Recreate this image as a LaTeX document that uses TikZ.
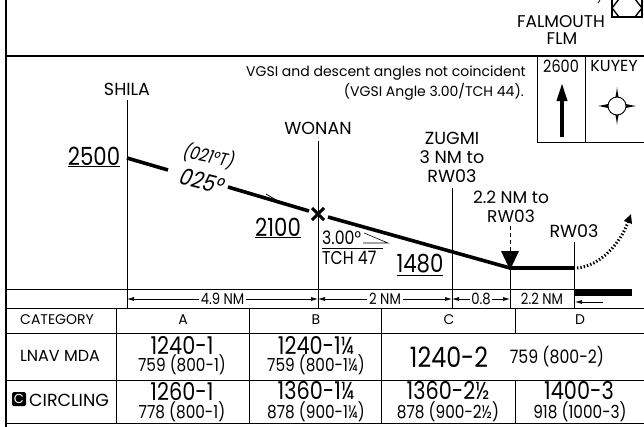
\documentclass[tikz,border=0pt]{standalone}
\usepackage{fontspec}
\setmainfont{Poppins}
\newfontfamily\numfont{Poppins}[FakeStretch=0.85]
\newfontfamily\slantfont{Poppins}[FakeStretch=0.85,FakeSlant=0.2]
\usetikzlibrary{arrows.meta}

\tikzset{
  fixline/.style={line width=1pt},
  profile/.style={line width=3.6pt},
  rule/.style={line width=1pt},
  lbl/.style={font=\fontsize{17.5}{19}\selectfont, inner sep=0pt},
  note/.style={font=\fontsize{14}{16}\selectfont, inner sep=0pt, anchor=east},
  alt/.style={font=\numfont\fontsize{25}{27}\selectfont, inner sep=0pt},
  tch/.style={font=\numfont\fontsize{18.5}{19}\selectfont, inner sep=0pt, anchor=west},
  dist/.style={font=\numfont\fontsize{15.5}{16}\selectfont, fill=white, inner sep=2pt},
  hdr/.style={font=\fontsize{14}{16}\selectfont, inner sep=0pt},
  mins/.style={font=\numfont\fontsize{24.5}{26}\selectfont, inner sep=0pt},
  minsub/.style={font=\numfont\fontsize{18}{19}\selectfont, inner sep=0pt},
  dimarrow/.style={line width=0.7pt, {Latex[length=7pt,width=4pt]}-{Latex[length=7pt,width=4pt]}},
}

\begin{document}
\begin{tikzpicture}[x=1pt,y=-1pt]
\useasboundingbox (0,0) rectangle (644,426);
\clip (0,0) rectangle (644,426);

% frame
\draw[line width=2.5pt] (6,-2) -- (6,428);
\draw[line width=2pt] (6,56) -- (646,56);

% navaid at the top
\node[font=\fontsize{17}{19}\selectfont, inner sep=0pt] (falmouth) at (561,22) {FALMOUTH};
\node[font=\fontsize{17}{19}\selectfont, inner sep=0pt] (flm) at (562,39) {FLM};
\draw[line width=1.4pt] (612,-2) rectangle (642,17);
\draw[line width=1.4pt] (612,8) -- (619,17) -- (635,17) -- (642,8) -- (635,-1) -- (619,-1) -- cycle;
\draw[line width=0.8pt] (598,3) -- (600,0);

% notes
\node[note] (vgsi1) at (526,73) {VGSI and descent angles not coincident};
\node[note] (vgsi2) at (524,92) {(VGSI Angle 3.00/TCH 44).};

% MSA / waypoint box
\draw[rule] (537,56) -- (537,142) -- (646,142);
\draw[rule] (585,56) -- (585,142);
\node[font=\numfont\fontsize{17}{18}\selectfont, inner sep=0pt] (msa) at (561,66) {2600};
\node[font=\fontsize{16}{18}\selectfont, inner sep=0pt] (kuyey) at (614,66) {KUYEY};
\coordinate (arrbot) at (562,137);
\coordinate (arrtop) at (562,83);
\draw[line width=3.5pt, -{Triangle[length=18pt,width=10pt]}] (arrbot) -- (arrtop);
\begin{scope}[shift={(617,106)}]
  \fill (0,-19) .. controls (2,-3) .. (19,0) .. controls (2,3) .. (0,19)
        .. controls (-2,3) .. (-19,0) .. controls (-2,-3) .. cycle;
  \fill[white] (0,0) circle [radius=9];
  \draw[line width=0.9pt] (0,0) circle [radius=9];
\end{scope}

% fixes
\coordinate (shila) at (127,158);
\coordinate (wonan) at (318,214);
\coordinate (map) at (510,268);
\coordinate (rw) at (574,268);

\node[lbl] (shilalbl) at (127,89) {SHILA};
\draw[fixline] (127,100) -- (127,308);

\node[lbl] (wonanlbl) at (318,128) {WONAN};
\draw[fixline] (318,141) -- (318,308);

\node[lbl, align=center] (zugmi) at (452,157) {ZUGMI\\3 NM to\\RW03};
\draw[fixline] (452,188) -- (452,308);

\node[lbl, align=center, font=\fontsize{17}{18.5}\selectfont] (vdp) at (511,207) {2.2 NM to\\RW03};
\draw[fixline, dash pattern=on 4pt off 3pt] (510,226) -- (510,252);
\fill (501,251) -- (519,251) -- (510,270) -- cycle;
\draw[fixline] (510,268) -- (510,308);

\node[lbl] (rwlbl) at (574,231) {RW03};
\draw[fixline] (574,242) -- (574,308);

% descent profile
\coordinate (gapa) at (168,170);
\coordinate (gapb) at (228,187);
\draw[profile] (shila) -- (gapa);
\draw[profile] (gapb) -- (309,211);
\draw[line width=0.8pt] (266,194) -- (283,204);
\draw[profile] (328,217) -- (map) -- (rw);
\draw[line width=3pt] (312,208) -- (324,220) (312,220) -- (324,208);
\draw[line width=3pt, dash pattern=on 1.4pt off 2pt, -{Triangle[length=9pt,width=8pt]}]
  (577,268) .. controls (600,266) and (620,244) .. (631,214);

\node[font=\slantfont\fontsize{18}{20}\selectfont, inner sep=0pt, rotate=-12] (truecrs) at (208,156) {(021°T)};
\node[font=\slantfont\fontsize{23}{24}\selectfont, inner sep=0pt, rotate=-14] (crs) at (201,181) {025°};

\node[alt] (a2500) at (94,157) {\underline{2500}};
\node[alt] (a2100) at (278,228) {\underline{2100}};
\node[alt] (a1480) at (420,265) {\underline{1480}};

\node[tch] (gpa) at (322,238) {3.00°};
\node[tch] (tchval) at (322,258) {TCH 47};
\draw[line width=0.8pt] (322,248) -- (383,248);
\draw[line width=0.6pt] (364,233) -- (388,243) -- (363,243);

% distance strip
\draw[rule] (6,289) -- (574,289);
\fill (574,289) rectangle (632,296);
\draw[line width=0.7pt, -{Latex[length=7pt,width=4pt]}] (603,302) -- (575,302);
\draw[dimarrow] (127,299) -- node[dist] (d1) {4.9 NM} (318,299);
\draw[dimarrow] (318,299) -- node[dist] (d2) {2 NM} (452,299);
\draw[dimarrow] (452,299) -- node[dist, inner sep=1pt] (d3) {0.8} (510,299);
\node[dist] (d4) at (542,299) {2.2 NM};

% minimums table
\draw[rule] (6,308) -- (646,308);
\draw[rule] (6,333) -- (646,333);
\draw[rule] (6,380) -- (646,380);
\draw[rule] (6,423) -- (646,423);
\draw[rule] (116,308) -- (116,423);
\draw[rule] (249,308) -- (249,423);
\draw[rule] (381,308) -- (381,423);
\draw[rule] (515,308) -- (515,333);
\draw[rule] (515,380) -- (515,423);

\node[hdr] (cat) at (57,320) {CATEGORY};
\node[hdr] (cata) at (183,320) {A};
\node[hdr] (catb) at (316,320) {B};
\node[hdr] (catc) at (449,320) {C};
\node[hdr] (catd) at (580,320) {D};

\node[hdr, font=\fontsize{16}{18}\selectfont] (lnav) at (60,356) {LNAV MDA};
\node[mins] (lna) at (182,345) {1240-1};
\node[minsub] (lnasub) at (182,365) {759 (800-1)};
\node[mins] (lnb) at (316,345) {1240-1¼};
\node[minsub] (lnbsub) at (316,365) {759 (800-1¼)};
\node[mins, font=\numfont\fontsize{28}{30}\selectfont] (lncd) at (449,357) {1240-2};
\node[minsub, font=\numfont\fontsize{18.5}{19}\selectfont] (lncdsub) at (557,357) {759 (800-2)};

\fill[rounded corners=1.5pt] (12,392) rectangle (26,406);
\node[hdr, text=white, font=\fontsize{13}{14}\selectfont] (cicon) at (19,399) {C};
\node[hdr, font=\fontsize{17.5}{19}\selectfont, anchor=west] (circ) at (29,400) {CIRCLING};
\node[mins] (cia) at (182,391) {1260-1};
\node[minsub] (ciasub) at (182,412) {778 (800-1)};
\node[mins] (cib) at (316,391) {1360-1¼};
\node[minsub] (cibsub) at (316,412) {878 (900-1¼)};
\node[mins] (cic) at (448,391) {1360-2½};
\node[minsub] (cicsub) at (448,412) {878 (900-2½)};
\node[mins] (cid) at (579,391) {1400-3};
\node[minsub] (cidsub) at (580,412) {918 (1000-3)};
\end{tikzpicture}
\end{document}
